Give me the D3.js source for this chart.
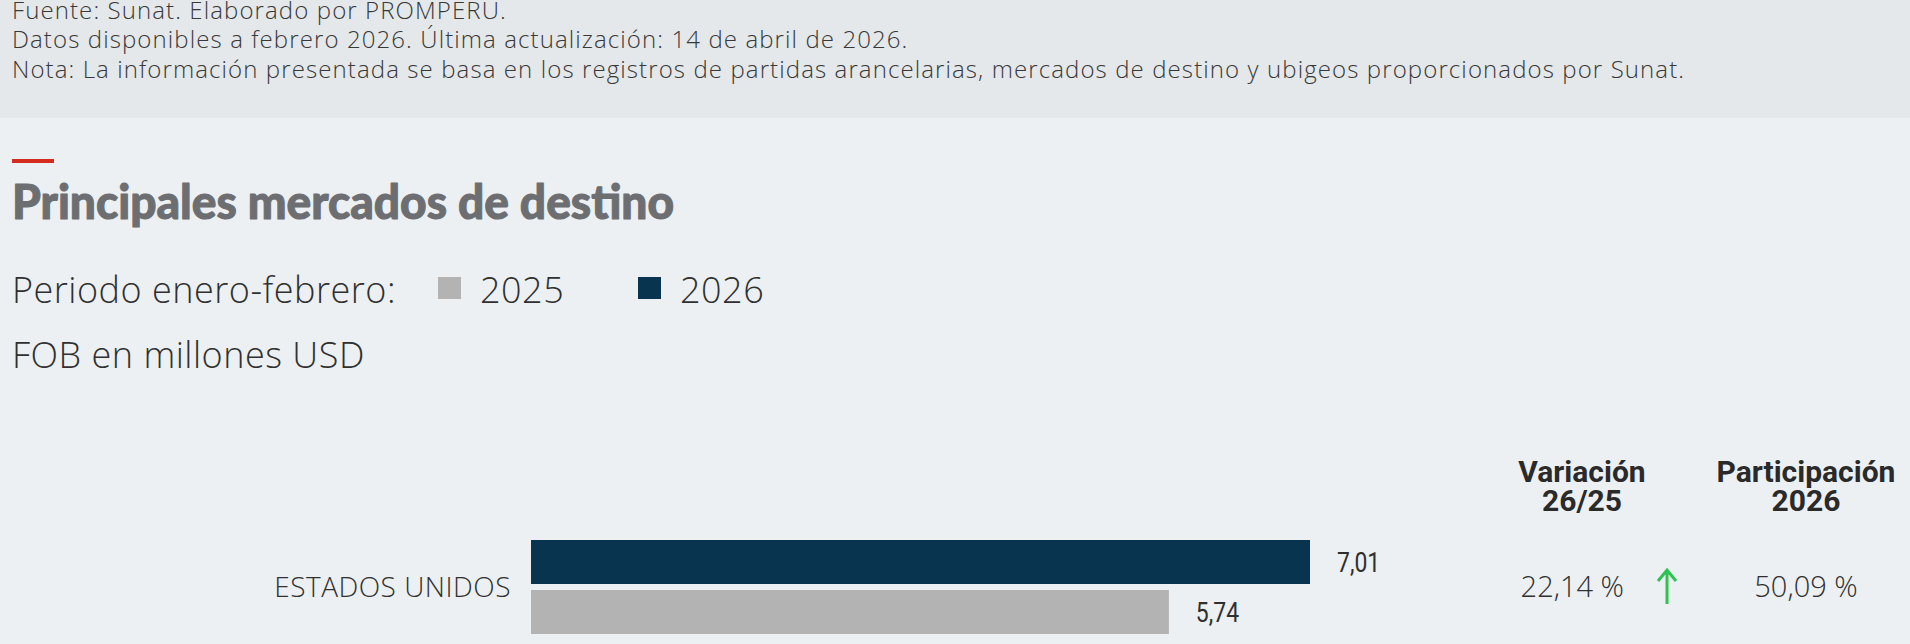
<!DOCTYPE html>
<html>
<head>
<meta charset="utf-8">
<script src="https://cdn.jsdelivr.net/npm/d3@7"></script>
<style>
  html, body { margin: 0; padding: 0; background: #ecf0f3; }
  svg { display: block; }
</style>
</head>
<body>
<svg id="chart" width="1910" height="644"></svg>
<script>
// ---- data ----
const notes = [
  "Fuente: Sunat. Elaborado por PROMPERU.",
  "Datos disponibles a febrero 2026. Última actualización: 14 de abril de 2026.",
  "Nota: La información presentada se basa en los registros de partidas arancelarias, mercados de destino y ubigeos proporcionados por Sunat."
];
const title = "Principales mercados de destino";
const periodLabel = "Periodo enero-febrero:";
const unitLabel = "FOB en millones USD";
const years = ["2025", "2026"];
const markets = ["ESTADOS UNIDOS"];
const fob2025 = [5.74];
const fob2026 = [7.01];
const variation = [22.14];
const share2026 = [50.09];
const columnHeaders = [["Variación", "26/25"], ["Participación", "2026"]];

// ---- setup ----
const W = 1910, H = 644;
const svg = d3.select("#chart");
const es = d3.formatLocale({ decimal: ",", thousands: ".", grouping: [3], currency: ["", ""] });
const fmt = es.format(".2f");

const lightFont = "'Open Sans', 'Noto Sans', sans-serif";
const colors = d3.scaleOrdinal().domain(years).range(["#b3b3b3", "#08344f"]);

// background panels
svg.append("rect").attr("width", W).attr("height", H).attr("fill", "#ecf0f3");
svg.append("rect").attr("width", W).attr("height", 118).attr("fill", "#e4e8ea");

// source notes
svg.append("g").selectAll("text").data(notes).join("text")
  .attr("x", 12).attr("y", (d, i) => 19 + i * 29.3)
  .attr("font-family", lightFont).attr("font-weight", 300)
  .attr("font-size", 24).attr("letter-spacing", 1.1).attr("fill", "#383838")
  .text(d => d);

// title with red accent
svg.append("rect").attr("x", 12).attr("y", 159).attr("width", 42).attr("height", 4).attr("fill", "#d52b1e");
svg.append("text").attr("x", 12).attr("y", 219)
  .attr("font-family", "Lato, sans-serif").attr("font-weight", 900)
  .attr("font-size", 47).attr("fill", "#6d6e71")
  .attr("stroke", "#6d6e71").attr("stroke-width", 1).attr("stroke-linejoin", "round")
  .attr("textLength", 662).attr("lengthAdjust", "spacingAndGlyphs")
  .text(title);

// legend
const legend = svg.append("g").attr("font-family", lightFont).attr("font-weight", 300)
  .attr("font-size", 36).attr("letter-spacing", 0.5).attr("fill", "#303030");
legend.append("text").attr("x", 12).attr("y", 303).text(periodLabel);
const legendX = d3.scalePoint().domain(years).range([438, 638]);
const li = legend.selectAll("g.item").data(years).join("g").attr("class", "item")
  .attr("transform", d => `translate(${legendX(d)},0)`);
li.append("rect").attr("y", 277).attr("width", 23).attr("height", 22).attr("fill", d => colors(d));
li.append("text").attr("x", 42).attr("y", 303).text(d => d);

legend.append("text").attr("x", 12).attr("y", 368).text(unitLabel);

// column headers
const colX = d3.scaleOrdinal().domain(["var", "share"]).range([1582, 1806]);
const hdr = svg.append("g").attr("font-family", "Roboto, sans-serif").attr("font-weight", 700)
  .attr("font-size", 30).attr("fill", "#2a2a2a").attr("text-anchor", "middle");
hdr.selectAll("text").data(columnHeaders).join("text")
  .attr("x", (d, i) => colX(i === 0 ? "var" : "share"))
  .attr("y", 482)
  .each(function (d) {
    d3.select(this).selectAll("tspan").data(d).join("tspan")
      .attr("x", d3.select(this).attr("x"))
      .attr("dy", (t, j) => j === 0 ? 0 : 29)
      .text(t => t);
  });

// ---- bars ----
const rows = markets.map((m, i) => ({
  market: m,
  values: [{ year: "2026", v: fob2026[i] }, { year: "2025", v: fob2025[i] }],
  variation: variation[i],
  share: share2026[i]
}));

const x = d3.scaleLinear()
  .domain([0, d3.max(rows, r => d3.max(r.values, d => d.v))])
  .range([531, 1310]);
const y = d3.scaleBand().domain(markets).range([540, 634]);
const ySub = d3.scaleBand().domain(["2026", "2025"]).range([0, y.bandwidth()]).paddingInner(0.12);

const row = svg.append("g").selectAll("g.row").data(rows).join("g").attr("class", "row")
  .attr("transform", d => `translate(0,${y(d.market)})`);

row.append("text")
  .attr("x", 511).attr("y", y.bandwidth() / 2 + 10)
  .attr("text-anchor", "end")
  .attr("font-family", lightFont).attr("font-weight", 300)
  .attr("font-size", 28).attr("letter-spacing", 0.5).attr("fill", "#303030")
  .text(d => d.market);

row.selectAll("rect.bar").data(d => d.values).join("rect").attr("class", "bar")
  .attr("x", x(0))
  .attr("y", d => ySub(d.year))
  .attr("width", d => x(d.v) - x(0))
  .attr("height", ySub.bandwidth())
  .attr("fill", d => colors(d.year));

// value labels in a narrowed face
row.selectAll("text.val").data(d => d.values).join("text").attr("class", "val")
  .attr("transform", d => `translate(${x(d.v) + 27},${ySub(d.year) + ySub.bandwidth() / 2 + 10}) scale(0.85,1)`)
  .attr("font-family", "Roboto, sans-serif")
  .attr("font-size", 27).attr("fill", "#2f2f2f")
  .text(d => fmt(d.v));

// variation and share columns
const mid = y.bandwidth() / 2;
row.append("text")
  .attr("x", 1624).attr("y", mid + 10).attr("text-anchor", "end")
  .attr("font-family", lightFont).attr("font-weight", 300)
  .attr("font-size", 29).attr("fill", "#303030")
  .text(d => fmt(d.variation) + " %");

row.append("path")
  .attr("d", d => {
    const up = d.variation >= 0;
    const cx = 1667, top = mid - 17, bot = mid + 17;
    return up
      ? `M${cx},${bot}V${top + 1}M${cx - 9},${top + 11}L${cx},${top}L${cx + 9},${top + 11}`
      : `M${cx},${top}V${bot - 1}M${cx - 9},${bot - 11}L${cx},${bot}L${cx + 9},${bot - 11}`;
  })
  .attr("fill", "none")
  .attr("stroke", d => d.variation >= 0 ? "#2ec24f" : "#d52b1e")
  .attr("stroke-width", 3);

row.append("text")
  .attr("x", colX("share")).attr("y", mid + 10).attr("text-anchor", "middle")
  .attr("font-family", lightFont).attr("font-weight", 300)
  .attr("font-size", 29).attr("fill", "#303030")
  .text(d => fmt(d.share) + " %");
</script>
</body>
</html>
